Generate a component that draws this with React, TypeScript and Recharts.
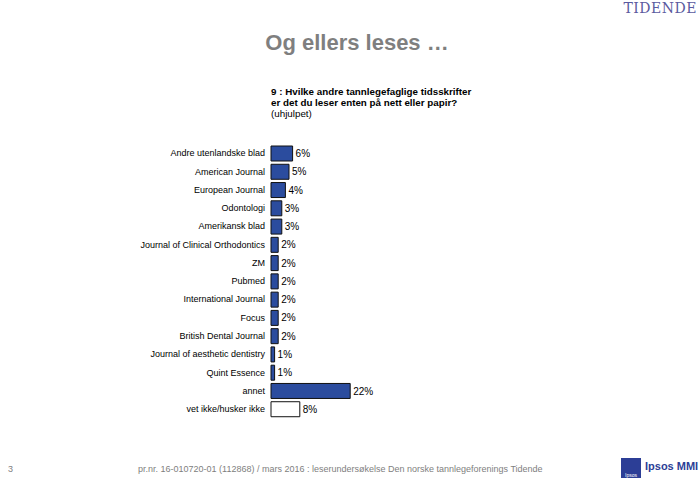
import React from 'react'
import { BarChart, Bar, XAxis, YAxis, Cell, LabelList } from 'recharts'

const categories = [
  'Andre utenlandske blad',
  'American Journal',
  'European Journal',
  'Odontologi',
  'Amerikansk blad',
  'Journal of Clinical Orthodontics',
  'ZM',
  'Pubmed',
  'International Journal',
  'Focus',
  'British Dental Journal',
  'Journal of aesthetic dentistry',
  'Quint Essence',
  'annet',
  'vet ikke/husker ikke',
]
const values = [6, 5, 4, 3, 3, 2, 2, 2, 2, 2, 2, 1, 1, 22, 8]

const data = categories.map((name, i) => ({ name, value: values[i] }))

const font = 'Arial, "Liberation Sans", sans-serif'

export default function App() {
  return (
    <div style={{ position: 'absolute', left: 0, top: 0, width: 700, height: 480, background: '#fff', fontFamily: font, overflow: 'hidden' }}>
      {/* header */}
      <div style={{ position: 'absolute', right: 3, top: 0, fontFamily: '"DejaVu Serif", "Liberation Serif", serif', fontSize: 14, color: '#5a5aa0', letterSpacing: 0.5 }}>
        TIDENDE
      </div>
      <div style={{ position: 'absolute', left: 0, width: 714, top: 30, textAlign: 'center', fontSize: 22, fontWeight: 'bold', color: '#7f7f7f' }}>
        Og ellers leses …
      </div>
      <div style={{ position: 'absolute', left: 271, top: 86, fontSize: 9.8, lineHeight: '11px', color: '#000' }}>
        <div style={{ fontWeight: 'bold' }}>9 : Hvilke andre tannlegefaglige tidsskrifter</div>
        <div style={{ fontWeight: 'bold' }}>er det du leser enten på nett eller papir?</div>
        <div>(uhjulpet)</div>
      </div>

      <div style={{ position: 'absolute', left: 0, top: 0 }}>
        <BarChart
          width={700}
          height={480}
          data={data}
          layout="vertical"
          margin={{ top: 144, right: 339, bottom: 62, left: 0 }}
          barSize={15}
        >
          <XAxis type="number" domain={[0, 25]} hide />
          <YAxis
            type="category"
            dataKey="name"
            width={271}
            axisLine={false}
            tickLine={false}
            interval={0}
            tick={{ fontSize: 9, fill: '#000', fontFamily: font }}
            tickMargin={0}
          />
          <Bar dataKey="value" stroke="#111" strokeWidth={1} isAnimationActive={false}>
            {data.map((d, i) => (
              <Cell key={`c-${i}`} fill={i === data.length - 1 ? '#ffffff' : '#2b4c9e'} />
            ))}
            <LabelList
              dataKey="value"
              position="right"
              offset={3}
              formatter={(v: number) => `${v}%`}
              style={{ fontSize: 10, fill: '#000', fontFamily: font }}
            />
          </Bar>
        </BarChart>
      </div>

      {/* footer */}
      <div style={{ position: 'absolute', left: 8, top: 464, fontSize: 9, color: '#808080' }}>3</div>
      <div style={{ position: 'absolute', left: 138, top: 464, fontSize: 9, color: '#808080', whiteSpace: 'nowrap' }}>
        pr.nr. 16-010720-01 (112868) / mars 2016 : leserundersøkelse Den norske tannlegeforenings Tidende
      </div>
      <div style={{ position: 'absolute', left: 621, top: 458, width: 20, height: 20, background: '#2c3e96', color: '#fff', fontSize: 5, display: 'flex', alignItems: 'flex-end', justifyContent: 'center' }}>
        Ipsos
      </div>
      <div style={{ position: 'absolute', left: 645, top: 460, fontSize: 11, fontWeight: 'bold', color: '#2c3e96', whiteSpace: 'nowrap' }}>
        Ipsos MMI
      </div>
    </div>
  )
}
